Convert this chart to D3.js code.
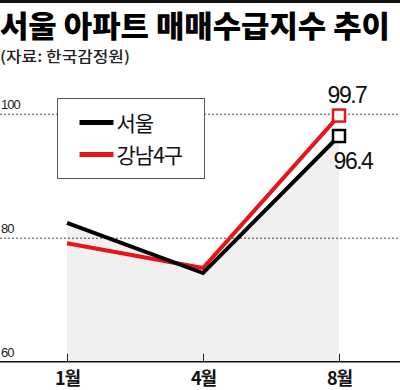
<!DOCTYPE html>
<html>
<head>
<meta charset="utf-8">
<script src="https://cdn.jsdelivr.net/npm/d3@7"></script>
<style>
  body { margin: 0; background: #fff; }
  svg { display: block; }
  .kr { font-family: "Noto Sans CJK KR", sans-serif; }
  .num { font-family: "Liberation Sans", Arial, sans-serif; }
</style>
</head>
<body>
<div id="chart"></div>
<script>
const months = ["1월", "4월", "8월"];
const seoul = [82.4, 74.3, 96.4];
const gangnam = [79.1, 75.1, 99.7];
const yTicks = [60, 80, 100];
const seriesNames = ["서울", "강남4구"];

const W = 400, H = 390;

const svg = d3.select("#chart").append("svg")
  .attr("width", W)
  .attr("height", H);

svg.append("rect").attr("width", W).attr("height", H).attr("fill", "#fff");

// top rule
svg.append("rect")
  .attr("x", 0).attr("y", 0)
  .attr("width", W).attr("height", 3)
  .attr("fill", "#111");

svg.append("text")
  .attr("class", "kr")
  .attr("x", 0).attr("y", 37)
  .attr("font-size", 30)
  .attr("font-weight", 900)
  .attr("textLength", 390)
  .attr("lengthAdjust", "spacingAndGlyphs")
  .text("서울 아파트 매매수급지수 추이");

svg.append("text")
  .attr("class", "kr")
  .attr("x", 0).attr("y", 62)
  .attr("font-size", 15)
  .attr("font-weight", 500)
  .attr("textLength", 130)
  .attr("lengthAdjust", "spacingAndGlyphs")
  .attr("fill", "#222")
  .text("(자료: 한국감정원)");

const x = d3.scalePoint()
  .domain(months)
  .range([67, 339]);

const y = d3.scaleLinear()
  .domain([60, 100])
  .range([361.7, 113.7]);

// shaded area under 서울
const area = d3.area()
  .x((d, i) => x(months[i]))
  .y0(y(60))
  .y1(d => y(d));

svg.append("path")
  .datum(seoul)
  .attr("d", area)
  .attr("fill", "#f0f0f0");

// gridlines + tick labels
yTicks.forEach(t => {
  if (t > 60) {
    svg.append("line")
      .attr("x1", 0).attr("x2", W)
      .attr("y1", y(t) + 0.5).attr("y2", y(t) + 0.5)
      .attr("stroke", "#444")
      .attr("stroke-width", 1)
      .attr("stroke-dasharray", "2,2");
  }
  svg.append("text")
    .attr("class", "num")
    .attr("x", 1)
    .attr("y", y(t) - 5)
    .attr("font-size", 13)
    .attr("letter-spacing", -1)
    .attr("fill", "#222")
    .text(t);
});

// x axis
const xAxis = d3.axisBottom(x)
  .tickSize(-8)
  .tickSizeOuter(0);

const gx = svg.append("g")
  .attr("transform", `translate(0, ${y(60)})`)
  .call(xAxis);

gx.select(".domain").remove();
gx.selectAll(".tick line").attr("stroke", "#222");
gx.selectAll(".tick text")
  .attr("class", "kr")
  .attr("y", 23)
  .attr("dy", 0)
  .attr("font-size", 18)
  .attr("font-weight", 700)
  .attr("fill", "#111")
  .attr("letter-spacing", -1);

svg.append("line")
  .attr("x1", 0).attr("x2", W)
  .attr("y1", y(60)).attr("y2", y(60))
  .attr("stroke", "#111")
  .attr("stroke-width", 1.5);

// lines
const line = d3.line()
  .x((d, i) => x(months[i]))
  .y(d => y(d));

svg.append("path")
  .datum(gangnam)
  .attr("d", line)
  .attr("fill", "none")
  .attr("stroke", "#e8141b")
  .attr("stroke-width", 4);

svg.append("path")
  .datum(seoul)
  .attr("d", line)
  .attr("fill", "none")
  .attr("stroke", "#000")
  .attr("stroke-width", 4);

// end markers
const last = months.length - 1;
[[gangnam, "#e8141b"], [seoul, "#000"]].forEach(([s, c]) => {
  svg.append("rect")
    .attr("x", x(months[last]) - 6)
    .attr("y", y(s[last]) - 6)
    .attr("width", 12).attr("height", 12)
    .attr("fill", "#fff")
    .attr("stroke", c)
    .attr("stroke-width", 2.5);
});

svg.append("text")
  .attr("class", "num")
  .attr("x", x(months[last]) + 8)
  .attr("y", y(gangnam[last]) - 13)
  .attr("text-anchor", "middle")
  .attr("font-size", 23)
  .attr("letter-spacing", -1.5)
  .attr("fill", "#111")
  .text(gangnam[last]);

svg.append("text")
  .attr("class", "num")
  .attr("x", x(months[last]) + 14)
  .attr("y", y(seoul[last]) + 33)
  .attr("text-anchor", "middle")
  .attr("font-size", 23)
  .attr("letter-spacing", -1.5)
  .attr("fill", "#111")
  .text(seoul[last]);

// legend
const legend = svg.append("g").attr("transform", "translate(57.5, 98.5)");
legend.append("rect")
  .attr("width", 147).attr("height", 80)
  .attr("fill", "#fff")
  .attr("stroke", "#555")
  .attr("stroke-width", 1);

const legendColors = ["#000", "#e8141b"];
seriesNames.forEach((name, i) => {
  const row = legend.append("g")
    .attr("transform", `translate(0, ${24 + i * 32})`);
  row.append("line")
    .attr("x1", 22).attr("x2", 56)
    .attr("stroke", legendColors[i])
    .attr("stroke-width", 5);
  row.append("text")
    .attr("class", "kr")
    .attr("x", 59)
    .attr("y", 8)
    .attr("font-size", 21)
    .attr("letter-spacing", -1)
    .attr("fill", "#111")
    .text(name);
});
</script>
</body>
</html>
